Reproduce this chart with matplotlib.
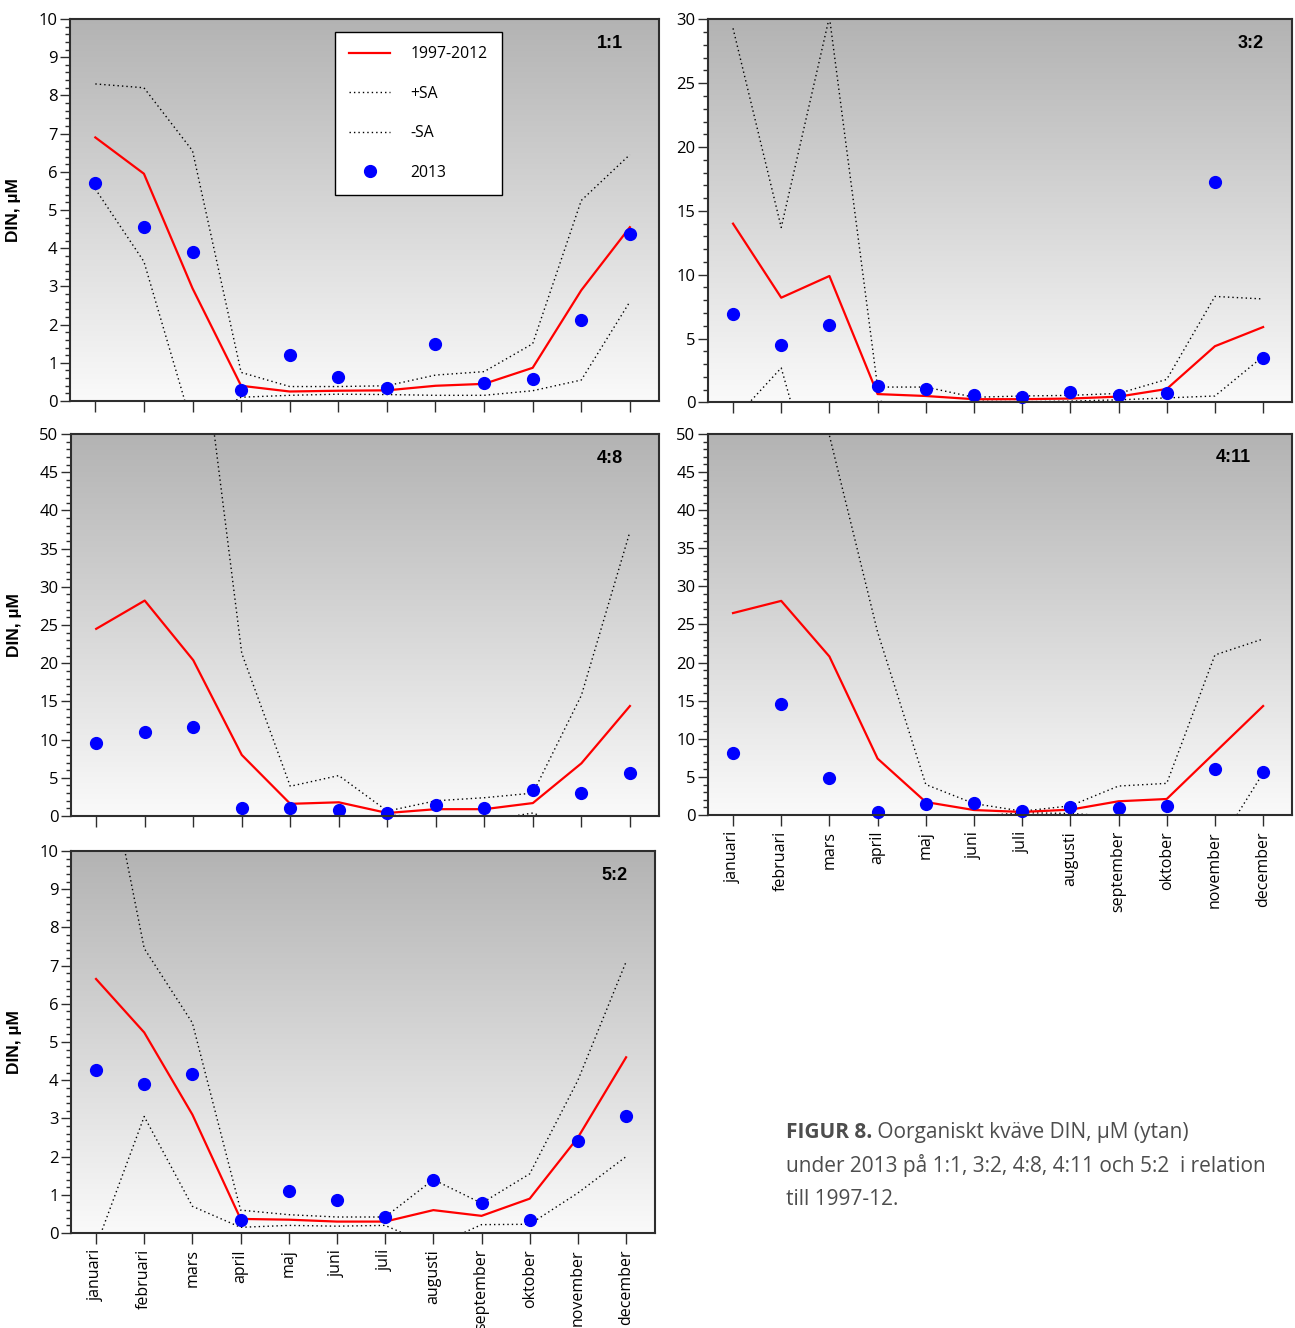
import numpy as np
import matplotlib
matplotlib.use("Agg")
import matplotlib.pyplot as plt
from matplotlib.colors import LinearSegmentedColormap
from matplotlib.ticker import MultipleLocator

plt.rcParams["font.family"] = ["Open Sans", "DejaVu Sans"]

# ====== DATA (DIN, µM, ytan) ======
MANADER = ["januari", "februari", "mars", "april", "maj", "juni",
           "juli", "augusti", "september", "oktober", "november", "december"]

# station 1:1
MEDEL_11 = [6.9, 5.95, 2.95, 0.4, 0.25, 0.27, 0.28, 0.4, 0.45, 0.87, 2.9, 4.55]
PLUS_11 = [8.3, 8.2, 6.55, 0.75, 0.38, 0.38, 0.4, 0.68, 0.77, 1.5, 5.25, 6.45]
MINUS_11 = [5.55, 3.65, -0.68, 0.1, 0.15, 0.18, 0.17, 0.15, 0.15, 0.27, 0.55, 2.6]
AR2013_11 = [5.7, 4.55, 3.9, 0.3, 1.2, 0.62, 0.33, 1.5, 0.47, 0.58, 2.12, 4.37]

# station 3:2
MEDEL_32 = [14.0, 8.2, 9.9, 0.65, 0.5, 0.25, 0.25, 0.3, 0.45, 1.05, 4.4, 5.9]
PLUS_32 = [29.3, 13.7, 30.2, 1.2, 1.2, 0.4, 0.5, 0.55, 0.7, 1.8, 8.3, 8.1]
MINUS_32 = [-1.4, 2.7, -10.6, 0.1, -0.2, 0.1, 0.05, 0.1, 0.2, 0.35, 0.5, 3.6]
AR2013_32 = [6.9, 4.5, 6.1, 1.3, 1.05, 0.55, 0.45, 0.8, 0.55, 0.7, 17.3, 3.5]

# station 4:8
MEDEL_48 = [24.5, 28.2, 20.4, 8.0, 1.6, 1.8, 0.4, 0.9, 0.9, 1.7, 6.9, 14.4]
PLUS_48 = [58.0, 66.0, 72.0, 21.3, 3.9, 5.3, 0.65, 2.0, 2.4, 3.0, 15.8, 37.2]
MINUS_48 = [-9.0, -9.6, -31.2, -5.3, -0.7, -1.7, 0.15, -0.2, -0.6, 0.4, -2.0, -8.4]
AR2013_48 = [9.6, 11.0, 11.7, 1.0, 1.1, 0.8, 0.35, 1.4, 1.0, 3.4, 3.05, 5.6]

# station 4:11
MEDEL_411 = [26.5, 28.1, 20.8, 7.4, 1.7, 0.65, 0.4, 0.7, 1.8, 2.1, 8.2, 14.3]
PLUS_411 = [60.0, 62.0, 49.8, 24.0, 4.0, 1.5, 0.5, 1.2, 3.8, 4.15, 21.0, 23.1]
MINUS_411 = [-7.0, -5.8, -8.2, -9.2, -0.6, -0.2, 0.3, 0.2, -0.2, 0.05, -4.6, 5.5]
AR2013_411 = [8.1, 14.6, 4.9, 0.35, 1.4, 1.6, 0.5, 1.1, 0.9, 1.2, 6.1, 5.6]

# station 5:2
MEDEL_52 = [6.65, 5.25, 3.1, 0.37, 0.35, 0.3, 0.3, 0.6, 0.45, 0.9, 2.5, 4.6]
PLUS_52 = [13.8, 7.45, 5.5, 0.6, 0.48, 0.42, 0.42, 1.4, 0.78, 1.55, 4.0, 7.1]
MINUS_52 = [-0.35, 3.05, 0.7, 0.15, 0.2, 0.18, 0.2, -0.35, 0.22, 0.23, 1.05, 2.0]
AR2013_52 = [4.28, 3.9, 4.15, 0.35, 1.1, 0.87, 0.42, 1.4, 0.78, 0.35, 2.42, 3.07]

BAKGRUND = LinearSegmentedColormap.from_list("bakgrund", ["#fafafa", "#b3b3b3"])
RAM = "#2e2e2e"


def rita_panel(ax, namn, medel, plus, minus, ar2013, ymax, steg, delsteg,
               namn_x, visa_manader, visa_ylabel):
    x = np.arange(1, 13)

    # grå gradient som bakgrund
    ax.imshow(np.linspace(0, 1, 256).reshape(-1, 1), cmap=BAKGRUND, origin="lower",
              extent=[0, 1, 0, 1], transform=ax.transAxes, aspect="auto", zorder=0)

    ax.plot(x, medel, color="#ff0000", lw=1.6, zorder=3, label="1997-2012")
    ax.plot(x, plus, color="black", lw=1.0, ls=(0, (1, 2.2)), zorder=2, label="+SA")
    ax.plot(x, minus, color="black", lw=1.0, ls=(0, (1, 2.2)), zorder=2, label="-SA")
    ax.plot(x, ar2013, ls="none", marker="o", ms=8.5, color="#0000ff",
            zorder=4, clip_on=False, label="2013")

    ax.set_xlim(0.48, 12.6)
    ax.set_ylim(0, ymax)
    ax.set_xticks(x)
    ax.yaxis.set_major_locator(MultipleLocator(steg))
    ax.yaxis.set_minor_locator(MultipleLocator(delsteg))

    ax.tick_params(axis="y", which="major", direction="out", length=7, width=1,
                   color=RAM, labelsize=12, pad=2)
    ax.tick_params(axis="y", which="minor", direction="out", length=3.5, width=1, color=RAM)
    ax.tick_params(axis="x", direction="out", length=8, width=1, color=RAM)
    for lbl in ax.get_yticklabels():
        lbl.set_family(["Liberation Sans Narrow", "Open Sans", "DejaVu Sans"])

    if visa_manader:
        ax.set_xticklabels(MANADER, rotation=90, fontsize=11.5)
    else:
        ax.tick_params(axis="x", labelbottom=False)

    for s in ax.spines.values():
        s.set_color(RAM)
        s.set_linewidth(1.5)
        s.set_zorder(5)

    ax.text(namn_x, 0.937, namn, transform=ax.transAxes, ha="center", va="center",
            fontsize=13, fontweight="bold", family=["Liberation Sans", "DejaVu Sans"])

    if visa_ylabel:
        ax.set_ylabel("DIN, µM", fontsize=12.5, fontweight="bold",
                      family=["Liberation Sans", "DejaVu Sans"])
        ax.yaxis.set_label_coords(-0.083, 0.5)


fig = plt.figure(figsize=(12.95, 13.28), dpi=100)

ax11 = fig.add_axes([0.0541, 0.698, 0.4548, 0.2877])
ax32 = fig.add_axes([0.5467, 0.697, 0.4510, 0.2884])
ax48 = fig.add_axes([0.0548, 0.3855, 0.4541, 0.2877])
ax411 = fig.add_axes([0.5467, 0.3863, 0.4510, 0.2869])
ax52 = fig.add_axes([0.0548, 0.0715, 0.4510, 0.2877])

rita_panel(ax11, "1:1", MEDEL_11, PLUS_11, MINUS_11, AR2013_11, 10, 1, 0.2, 0.917, False, True)
rita_panel(ax32, "3:2", MEDEL_32, PLUS_32, MINUS_32, AR2013_32, 30, 5, 1, 0.93, False, False)
rita_panel(ax48, "4:8", MEDEL_48, PLUS_48, MINUS_48, AR2013_48, 50, 5, 1, 0.917, False, True)
rita_panel(ax411, "4:11", MEDEL_411, PLUS_411, MINUS_411, AR2013_411, 50, 5, 1, 0.90, True, False)
rita_panel(ax52, "5:2", MEDEL_52, PLUS_52, MINUS_52, AR2013_52, 10, 1, 0.2, 0.93, True, True)

leg = ax11.legend(loc="upper left", bbox_to_anchor=(0.45, 0.966), fontsize=11.3,
                  frameon=True, fancybox=False, framealpha=1, edgecolor="black",
                  labelspacing=1.5, handlelength=2.6, handletextpad=1.3,
                  borderpad=0.9, borderaxespad=0, numpoints=1)
leg.get_frame().set_linewidth(1.0)
leg.set_zorder(6)

# figurtext
cap = fig.add_axes([0, 0, 1, 1])
cap.axis("off")
cap.set_xlim(0, 1)
cap.set_ylim(0, 1)
GRA = "#4d4d4d"
fet = cap.text(0.607, 0.1431, "FIGUR 8.", fontsize=15, fontweight="bold", color=GRA,
               va="baseline", ha="left")
cap.annotate(" Oorganiskt kväve DIN, µM (ytan)", xy=(1, 0), xycoords=fet,
             va="bottom", ha="left", fontsize=15, color=GRA)
cap.text(0.607, 0.1175, "under 2013 på 1:1, 3:2, 4:8, 4:11 och 5:2  i relation",
         fontsize=15, color=GRA, va="baseline", ha="left")
cap.text(0.607, 0.0926, "till 1997-12.", fontsize=15, color=GRA, va="baseline", ha="left")

fig.savefig("out.png", dpi=100)
